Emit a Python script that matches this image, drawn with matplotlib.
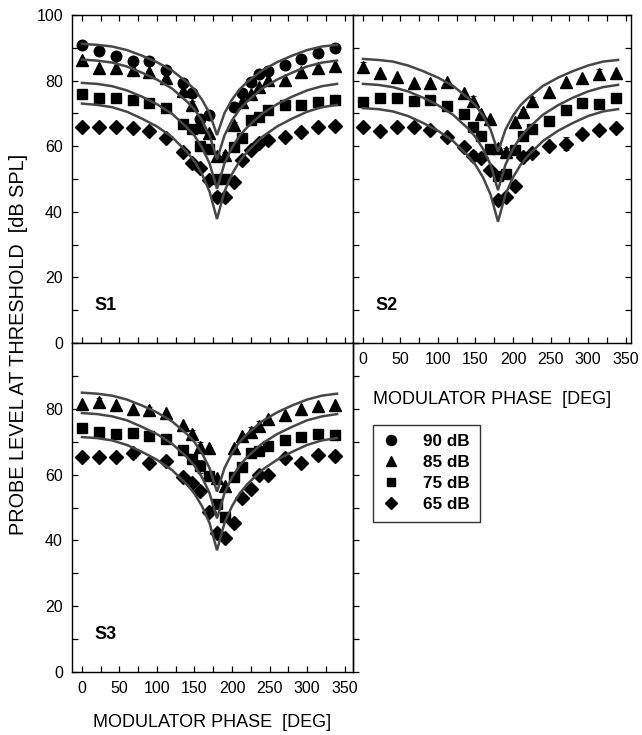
import numpy as np
import matplotlib
matplotlib.use('Agg')
import matplotlib.pyplot as plt
from matplotlib.lines import Line2D
from matplotlib.ticker import MultipleLocator, FixedLocator

plt.rcParams['font.family'] = ['Liberation Sans', 'DejaVu Sans']

# ---------------- data ----------------
phase = [0, 22.5, 45, 67.5, 90, 112.5, 135, 146.25, 157.5, 168.75, 180,
         191.25, 202.5, 213.75, 225, 236.25, 247.5, 270, 292.5, 315, 337.5]
nan = np.nan

# S1
s1_90 = [91.0, 89.0, 87.4, 85.9, 85.9, 83.1, 79.3, 76.3, 68.4, 69.4, nan,
         nan, 72.0, 76.3, 79.5, 81.9, 83.0, 84.8, 86.6, 88.3, 89.8]
s1_85 = [86.2, 83.8, 83.8, 83.1, 82.5, 80.8, 76.8, 72.7, 66.0, 64.0, 57.0,
         57.3, 66.5, 73.6, 75.8, 78.0, 80.2, 80.2, 82.7, 83.7, 84.3]
s1_75 = [76.0, 74.7, 74.7, 74.2, 73.2, 71.5, 66.7, 65.2, 60.0, 59.0, 50.0,
         50.0, 59.8, 62.4, 68.0, 68.8, 71.0, 72.6, 72.6, 73.6, 74.0]
s1_65 = [66.0, 66.0, 66.0, 65.4, 64.6, 62.6, 58.3, 54.8, 53.5, 49.7, 44.6,
         44.6, 49.2, 55.8, 58.8, 60.9, 61.9, 62.9, 64.4, 66.0, 66.2]
# S2
s2_85 = [84.1, 82.2, 81.0, 79.3, 79.3, 79.5, 76.2, 73.7, 69.8, 68.3, 59.5,
         58.3, 67.3, 70.4, 73.7, nan, 76.4, 79.5, 80.8, 82.0, 82.2]
s2_75 = [73.4, 74.6, 74.6, 73.9, 74.1, 72.4, 69.8, 65.8, 63.2, 59.0, 51.0,
         51.4, 58.7, 63.0, 65.3, nan, 67.7, 71.0, 73.2, 72.8, 74.7]
s2_65 = [66.0, 64.6, 65.8, 65.8, 64.8, 62.9, 59.7, 57.0, 56.5, 52.6, 43.6,
         44.5, 47.8, 56.8, 57.8, nan, 60.2, 60.8, 63.8, 65.0, 65.6]
# S3
s3_85 = [81.5, 82.0, 81.2, 80.0, 79.5, 78.8, 75.1, 72.2, 68.3, 68.0, 59.0,
         56.5, 68.0, 71.7, 73.1, 74.9, 76.8, 78.2, 80.0, 80.8, 81.3]
s3_75 = [74.1, 72.9, 72.4, 72.7, 71.7, 70.7, 67.6, 64.8, 62.5, 59.7, 51.0,
         47.2, 59.2, 62.2, 66.6, 67.3, 68.6, 70.4, 71.4, 72.4, 72.1]
s3_65 = [65.3, 65.3, 65.3, 66.6, 63.6, 64.0, 59.2, 57.5, 55.1, 48.5, 42.3,
         40.7, 45.4, 52.8, 55.6, 59.9, 60.0, 65.0, 63.6, 66.0, 65.6]

# error bars (+/- dB), 0 = no visible bar
s1_err_90 = [0] * 21
s1_err_85 = [0, 0, 0, 0, 0, 0, 0, 1, 1, 0, 1, 1, 1, 0, 0, 0, 0, 0, 0, 0, 0]
s1_err_75 = [0, 0, 0, 0, 0, 0, 0, 0, 1.2, 1, 1, 1, 1.2, 1, 0, 0, 0, 0, 0, 0, 0]
s1_err_65 = [0, 0, 0, 0, 0, 0, 0, 0, 0, 1, 1.5, 1.5, 1, 0, 0, 0, 0, 0, 0, 0, 0]
s2_err_85 = [1.5, 0, 0, 0, 0, 0, 0, 1.5, 0, 0, 1, 1, 0, 1, 1.2, 0, 0, 0, 0, 1.5, 0]
s2_err_75 = [1.3, 0, 0, 0, 0, 0, 1, 0, 1, 0, 1, 0, 0, 0, 0, 0, 0, 1, 0, 1.3, 0]
s2_err_65 = [0, 1.2, 0, 0, 0, 0, 0, 1.5, 0, 0, 1, 0, 0, 0, 0, 0, 0, 2, 0, 0, 0]
s3_err_85 = [0, 1.2, 0, 0, 1, 0, 0, 1.5, 1.5, 0, 0, 0, 0, 0, 1.5, 1.5, 0, 0, 0, 0, 0]
s3_err_75 = [0, 0, 0, 0, 0, 0, 0, 1.5, 2, 0, 1, 1.5, 0, 0, 1, 0, 0, 0, 0, 0, 1.2]
s3_err_65 = [0, 0, 0, 1.5, 0, 0, 0, 0, 0, 0, 1, 1, 0, 0, 0, 0, 0, 1.5, 0, 0, 1.5]

# model curves
curve_phase = [0, 20, 40, 60, 80, 100, 120, 140, 150, 160, 170, 180,
               190, 200, 210, 220, 240, 260, 280, 300, 320, 340]
s1_fit_90 = [91.2, 90.9, 90.4, 89.3, 87.6, 85.6, 83.1, 79.5, 77.3, 74.2, 70.1, 63.4,
             70.1, 74.2, 77.3, 79.5, 83.1, 85.6, 87.6, 89.3, 90.4, 90.9]
s1_fit_85 = [86.4, 86.1, 85.5, 84.3, 82.4, 80.3, 77.6, 73.6, 71.2, 67.9, 63.3, 56.0,
             63.3, 67.9, 71.2, 73.6, 77.6, 80.3, 82.4, 84.3, 85.5, 86.1]
s1_fit_75 = [79.3, 79.0, 78.3, 77.0, 75.1, 72.8, 69.9, 65.7, 63.2, 59.6, 54.8, 47.0,
             54.8, 59.6, 63.2, 65.7, 69.9, 72.8, 75.1, 77.0, 78.3, 79.0]
s1_fit_65 = [73.0, 72.6, 71.9, 70.5, 68.4, 66.0, 62.8, 58.2, 55.4, 51.5, 46.2, 37.8,
             46.2, 51.5, 55.4, 58.2, 62.8, 66.0, 68.4, 70.5, 71.9, 72.6]
s2_fit_85 = [86.6, 86.3, 85.8, 84.6, 82.9, 80.9, 78.4, 74.7, 72.5, 69.3, 65.1, 58.3,
             65.1, 69.3, 72.5, 74.7, 78.4, 80.9, 82.9, 84.6, 85.8, 86.3]
s2_fit_75 = [79.0, 78.7, 78.0, 76.7, 74.8, 72.5, 69.6, 65.4, 62.8, 59.2, 54.4, 46.6,
             54.4, 59.2, 62.8, 65.4, 69.6, 72.5, 74.8, 76.7, 78.0, 78.7]
s2_fit_65 = [71.6, 71.3, 70.6, 69.2, 67.1, 64.7, 61.6, 57.1, 54.3, 50.5, 45.3, 37.0,
             45.3, 50.5, 54.3, 57.1, 61.6, 64.7, 67.1, 69.2, 70.6, 71.3]
s3_fit_85 = [84.9, 84.6, 84.0, 82.8, 81.0, 78.9, 76.2, 72.3, 69.9, 66.5, 62.0, 54.8,
             62.0, 66.5, 69.9, 72.3, 76.2, 78.9, 81.0, 82.8, 84.0, 84.6]
s3_fit_75 = [78.7, 78.4, 77.7, 76.5, 74.5, 72.3, 69.4, 65.3, 62.7, 59.2, 54.4, 46.7,
             54.4, 59.2, 62.7, 65.3, 69.4, 72.3, 74.5, 76.5, 77.7, 78.4]
s3_fit_65 = [71.4, 71.1, 70.4, 69.0, 66.9, 64.5, 61.4, 57.0, 54.2, 50.4, 45.3, 37.0,
             45.3, 50.4, 54.2, 57.0, 61.4, 64.5, 66.9, 69.0, 70.4, 71.1]

levels = ['90 dB', '85 dB', '75 dB', '65 dB']
ytick_top = [0, 20, 40, 60, 80, 100]
ytick_bottom = [0, 20, 40, 60, 80]

markers = {'90 dB': 'o', '85 dB': '^', '75 dB': 's', '65 dB': 'D'}
msize = {'90 dB': 7.6, '85 dB': 8.2, '75 dB': 6.8, '65 dB': 6.8}

panels = [
    ('S1', {'90 dB': (s1_90, s1_err_90, s1_fit_90), '85 dB': (s1_85, s1_err_85, s1_fit_85),
            '75 dB': (s1_75, s1_err_75, s1_fit_75), '65 dB': (s1_65, s1_err_65, s1_fit_65)}),
    ('S2', {'85 dB': (s2_85, s2_err_85, s2_fit_85), '75 dB': (s2_75, s2_err_75, s2_fit_75),
            '65 dB': (s2_65, s2_err_65, s2_fit_65)}),
    ('S3', {'85 dB': (s3_85, s3_err_85, s3_fit_85), '75 dB': (s3_75, s3_err_75, s3_fit_75),
            '65 dB': (s3_65, s3_err_65, s3_fit_65)}),
]

W, H = 642, 735
fig = plt.figure(figsize=(W / 100, H / 100), dpi=100)

def rect(x0, y0, x1, y1):
    return [x0 / W, 1 - y1 / H, (x1 - x0) / W, (y1 - y0) / H]

ax1 = fig.add_axes(rect(72, 15, 353, 343))
ax2 = fig.add_axes(rect(353, 15, 631, 343))
ax3 = fig.add_axes(rect(72, 343, 353, 672))
axes = [ax1, ax2, ax3]

curve_color = '#474747'
tick_kw = dict(direction='in', length=4.5, width=0.9, labelsize=11.5, pad=6.5, color='black')

for ax, (name, series) in zip(axes, panels):
    for lev in levels:
        if lev not in series:
            continue
        vals, err, fit = series[lev]
        yerr = np.array(err, dtype=float)
        ax.errorbar(phase, vals, yerr=np.where(yerr > 0, yerr, np.nan), fmt='none',
                    ecolor='#333333', elinewidth=0.8, capsize=2.5, capthick=0.8, zorder=2)
        ax.plot(phase, vals, linestyle='none', marker=markers[lev], ms=msize[lev],
                mfc='black', mec='black', zorder=3)
        ax.plot(curve_phase, fit, color=curve_color, lw=1.8, zorder=4,
                solid_joinstyle='miter')
    ax.set_ylim(0, 100)
    ax.xaxis.set_major_locator(MultipleLocator(50))
    ax.xaxis.set_minor_locator(MultipleLocator(25))
    ax.yaxis.set_major_locator(FixedLocator(ytick_top if ax is not ax3 else ytick_bottom))
    ax.yaxis.set_minor_locator(MultipleLocator(10))
    for sp in ax.spines.values():
        sp.set_linewidth(1.0)
        sp.set_color('black')
    ax.text(32, 11.5, name, fontsize=13, fontweight='bold', ha='center', va='center')

ax1.set_xlim(-13.3, 361.3)
ax3.set_xlim(-13.3, 361.3)
ax2.set_xlim(-13.3, 357.3)

# S1 ticks
ax1.tick_params(axis='both', which='both', top=True, bottom=True, left=True, right=False,
                labelbottom=False, **tick_kw)
# S2 ticks
ax2.tick_params(axis='both', which='both', top=True, bottom=True, left=True, right=True,
                labelleft=False, **tick_kw)
ax2.set_xlabel('MODULATOR PHASE  [DEG]', fontsize=13, labelpad=17)
# S3 ticks
ax3.tick_params(axis='both', which='both', top=False, bottom=True, left=True, right=False,
                **tick_kw)
ax3.set_xlabel('MODULATOR PHASE  [DEG]', fontsize=13, labelpad=13)
sec = ax3.secondary_yaxis('right')
sec.yaxis.set_major_locator(MultipleLocator(10))
sec.tick_params(direction='out', length=4.5, width=0.9, labelright=False)
sec.spines['right'].set_linewidth(1.0)

fig.text(19 / W, 1 - 344 / H, 'PROBE LEVEL AT THRESHOLD  [dB SPL]', rotation=90,
         ha='center', va='center', fontsize=14.3)

# legend
handles = [Line2D([], [], linestyle='none', marker=markers[l], ms=msize[l] * 0.95,
                  mfc='black', mec='black') for l in levels]
leg = fig.legend(handles, levels, loc='upper left',
                 bbox_to_anchor=(373 / W, 1 - 425 / H), borderaxespad=0,
                 prop={'weight': 'bold', 'size': 12.3}, frameon=True, fancybox=False,
                 handlelength=1.0, handletextpad=1.4, labelspacing=0.35,
                 borderpad=0.55, edgecolor='black')
leg.get_frame().set_linewidth(1.0)

fig.savefig('out.png', dpi=100)
